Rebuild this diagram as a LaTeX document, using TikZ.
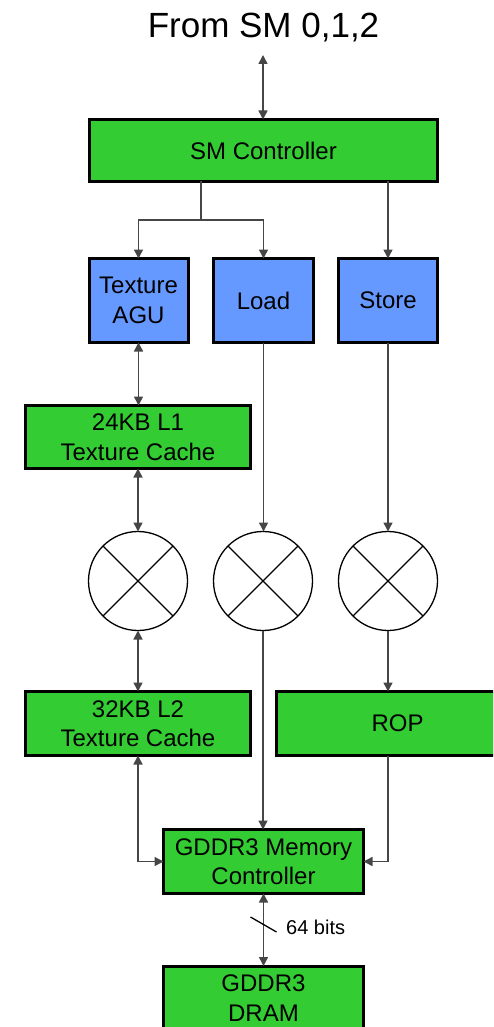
\documentclass[tikz,border=0pt]{standalone}
\usepackage{fontspec}
\setmainfont{Liberation Sans}
\usetikzlibrary{arrows.meta,calc}
\definecolor{boxgreen}{RGB}{51,204,51}
\definecolor{boxblue}{RGB}{102,153,255}
\definecolor{wire}{RGB}{70,70,70}
\tikzset{
  unit/.style={draw=black, line width=3pt, inner sep=0pt, outer sep=0pt,
    align=center, font=\fontsize{24}{29.5}\selectfont},
  greenbox/.style={unit, fill=boxgreen},
  bluebox/.style={unit, fill=boxblue},
  xbar/.style={circle, draw=black, line width=1.3pt, fill=white,
    minimum size=99pt, inner sep=0pt, outer sep=0pt},
  wireline/.style={draw=wire, line width=1.5pt},
  tip/.tip={Triangle[length=9pt,width=9pt]},
  fwd/.style={wireline, -{tip}},
  both/.style={wireline, {tip}-{tip}},
}
\begin{document}
\begin{tikzpicture}[x=1pt,y=-1pt]
\useasboundingbox (0,0) rectangle (493,1027);
\clip (0,0) rectangle (493,1027);

% source label and controller
\node[anchor=base, font=\fontsize{35}{40}\selectfont] (src) at (263.5,38) {From SM 0,1,2};
\coordinate (srcpt) at (263,55);
\node[greenbox, minimum width=348pt, minimum height=62pt] (sm) at (263.5,150.5) {SM Controller};

% address / load / store units
\node[bluebox, minimum width=99pt, minimum height=84pt] (agu) at (138.5,300.5) {Texture\\AGU};
\node[bluebox, minimum width=100pt, minimum height=84pt] (load) at (263.5,300.5) {Load};
\node[bluebox, minimum width=99pt, minimum height=84pt] (store) at (388,300.5) {Store};

% texture caches
\node[greenbox, minimum width=225pt, minimum height=63pt] (l1) at (138,437) {24KB L1\\Texture Cache};

% crossbars
\node[xbar] (m1) at (138,581) {};
\node[xbar] (m2) at (263,581) {};
\node[xbar] (m3) at (388,581) {};
\foreach \m in {m1,m2,m3}{
  \draw[line width=1.3pt] (\m.north west) -- (\m.south east);
  \draw[line width=1.3pt] (\m.north east) -- (\m.south west);
}

\node[greenbox, minimum width=225pt, minimum height=64pt] (l2) at (138,723.5) {32KB L2\\Texture Cache};
\node[greenbox, minimum width=242pt, minimum height=64pt] (rop) at (397.5,723.5) {ROP};

% memory side
\node[greenbox, minimum width=200pt, minimum height=64pt] (mc) at (263.5,861.5) {GDDR3 Memory\\Controller};
\node[greenbox, minimum width=200pt, minimum height=64pt] (dram) at (263.5,998) {GDDR3\\DRAM};

% connections
\draw[both] (srcpt) -- (sm.north -| srcpt);
\coordinate (split) at (201,220);
\draw[wireline] (sm.south -| split) -- (split);
\draw[fwd] (split) -| (agu.north);
\draw[fwd] (split) -| (load.north);
\draw[fwd] (sm.south -| store.north) -- (store.north);

\draw[both] (agu.south) -- (l1.north -| agu.south);
\draw[both] (l1.south) -- (m1.north);
\draw[fwd] (load.south) -- (m2.north -| load.south);
\draw[fwd] (store.south) -- (m3.north -| store.south);

\draw[both] (m1.south) -- (l2.north);
\draw[fwd] (m3.south) -- (m3.south |- rop.north);
\draw[fwd] (m2.south) -- (mc.north -| m2.south);

\draw[both] (l2.south) |- (mc.west);
\draw[fwd] (rop.south -| m3.south) |- (mc.east);

\draw[both] (mc.south) -- (dram.north);
\coordinate (bus) at (263.5,924.5);
\draw[line width=1.3pt] ([shift={(-13,-7.5)}]bus) -- ([shift={(13,7.5)}]bus);
\node[anchor=west, font=\fontsize{20}{24}\selectfont, inner sep=0pt] (buswidth) at (286,927) {64 bits};
\end{tikzpicture}
\end{document}
